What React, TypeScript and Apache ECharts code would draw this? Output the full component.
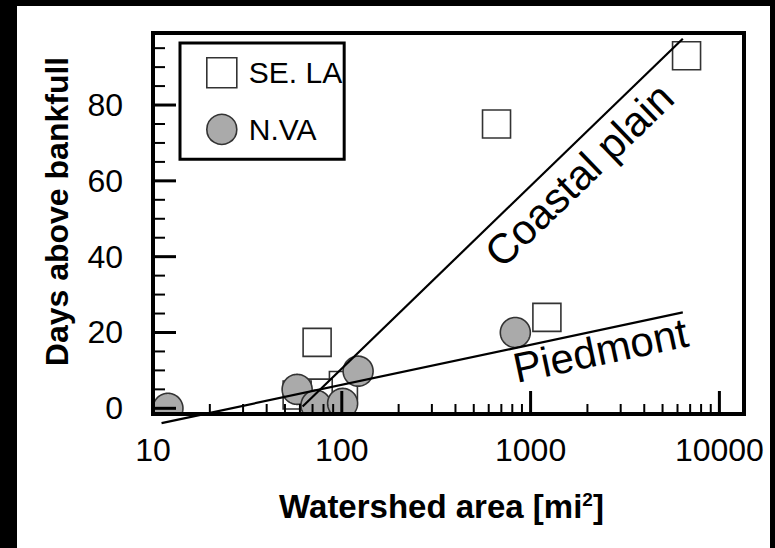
import { useEffect, useRef } from "react";
import * as echarts from "echarts";

const FONT = '"Liberation Sans", Arial, Helvetica, sans-serif';

// SE. LA gauges (open squares)
const seLaArea = [6700, 660, 1220, 74, 102, 75, 58];
const seLaDays = [93, 75, 24, 17.4, 6, 4, 3.5];

// N.VA gauges (grey circles)
const nVaArea = [12, 58, 73, 101, 122, 830];
const nVaDays = [0, 5, 0.8, 1.3, 9.8, 20];

// fitted trend lines (end points)
const coastalArea = [62, 6400];
const coastalDays = [0.5, 97.5];
const piedmontArea = [11.1, 6400];
const piedmontDays = [-3.9, 25.3];

// tick values
const xMajor = [10, 100, 1000, 10000];
const xMinor = [
  20, 30, 40, 50, 60, 70, 80, 90,
  200, 300, 400, 500, 600, 700, 800, 900,
  2000, 3000, 4000, 5000, 6000, 7000, 8000, 9000,
];
const yMajor = [0, 20, 40, 60, 80];
const yMinor = [5, 10, 15, 25, 30, 35, 45, 50, 55, 65, 70, 75, 85, 90, 95];

const X_MIN = 10;
const X_MAX = 13500;
const Y_MIN = -1.5;
const Y_MAX = 99;

const pairs = (xs: number[], ys: number[]) => xs.map((x, i) => [x, ys[i]]);
const clamp = (v: number, lo: number, hi: number) => Math.min(Math.max(v, lo), hi);

// markers are cut off at the plot frame
function markerSeries(name: string, xs: number[], ys: number[], kind: "rect" | "circle", z: number) {
  return {
    type: "custom",
    name,
    coordinateSystem: "cartesian2d",
    clip: false,
    z,
    data: pairs(xs, ys),
    renderItem: (params: any, api: any) => {
      const cs = params.coordSys;
      const x0 = cs.x;
      const x1 = cs.x + cs.width;
      const y0 = cs.y;
      const y1 = cs.y + cs.height;
      const p = api.coord([api.value(0), api.value(1)]);
      if (kind === "rect") {
        const h = 14;
        const l = clamp(p[0] - h, x0, x1);
        const r = clamp(p[0] + h, x0, x1);
        const t = clamp(p[1] - h, y0, y1);
        const b = clamp(p[1] + h, y0, y1);
        return {
          type: "rect",
          shape: { x: l, y: t, width: r - l, height: b - t },
          style: { fill: "#ffffff", stroke: "#333333", lineWidth: 1.6 },
        };
      }
      const rad = 15;
      const pts: number[][] = [];
      for (let i = 0; i < 90; i++) {
        const a = (i / 90) * Math.PI * 2;
        pts.push([
          clamp(p[0] + rad * Math.cos(a), x0, x1),
          clamp(p[1] + rad * Math.sin(a), y0, y1),
        ]);
      }
      return {
        type: "polygon",
        shape: { points: pts },
        style: { fill: "#aaaaaa", stroke: "#333333", lineWidth: 1.6 },
      };
    },
  };
}

function trendLine(xs: number[], ys: number[]) {
  return {
    type: "line",
    data: pairs(xs, ys),
    symbol: "none",
    clip: false,
    silent: true,
    z: 5,
    lineStyle: { color: "#000", width: 2.2 },
  };
}

const isPow10 = (v: number) => {
  const lg = Math.log10(v);
  return Math.abs(lg - Math.round(lg)) < 1e-6;
};

export default function App() {
  const ref = useRef<HTMLDivElement>(null);

  useEffect(() => {
    if (!ref.current) return;
    const chart = echarts.init(ref.current, undefined, { renderer: "svg" });

    chart.setOption({
      animation: false,
      grid: { left: 153, right: 31, top: 33, bottom: 134 },
      legend: {
        orient: "vertical",
        left: 180,
        top: 43,
        padding: [14, 2, 14, 26],
        itemWidth: 30,
        itemHeight: 30,
        itemGap: 25,
        borderColor: "#000",
        borderWidth: 3,
        backgroundColor: "#fff",
        selectedMode: false,
        textStyle: { fontSize: 30, color: "#000", fontFamily: FONT, padding: [0, 0, 0, 7] },
        data: [
          { name: "SE. LA", icon: "rect", itemStyle: { color: "#fff", borderColor: "#333", borderWidth: 1.6 } },
          { name: "N.VA", icon: "circle", itemStyle: { color: "#aaa", borderColor: "#333", borderWidth: 1.6 } },
        ],
      },
      xAxis: {
        type: "log",
        logBase: 10,
        min: X_MIN,
        max: X_MAX,
        axisLine: { show: false },
        axisTick: { show: false },
        splitLine: { show: false },
        axisLabel: {
          margin: 20,
          fontSize: 32,
          color: "#000",
          fontFamily: FONT,
          formatter: (v: number) => (isPow10(v) && xMajor.includes(Math.round(v)) ? String(Math.round(v)) : ""),
        },
        name: "Watershed area [mi{sup|2}]",
        nameLocation: "middle",
        nameGap: 76,
        nameTextStyle: {
          fontSize: 33,
          fontWeight: "bold",
          color: "#000",
          fontFamily: FONT,
          padding: [0, 14, 0, 0],
          rich: {
            sup: { fontSize: 19, fontWeight: "bold", color: "#000", fontFamily: FONT, verticalAlign: "top", padding: [0, 0, 14, 0] },
          },
        },
      },
      yAxis: {
        type: "value",
        min: Y_MIN,
        max: Y_MAX,
        axisLine: { show: false },
        axisTick: { show: false },
        splitLine: { show: false },
        axisLabel: {
          margin: 30,
          fontSize: 32,
          color: "#000",
          fontFamily: FONT,
          formatter: (v: number) => (yMajor.includes(v) ? String(v) : ""),
        },
        name: "Days above bankfull",
        nameLocation: "middle",
        nameGap: 80,
        nameRotate: 90,
        nameTextStyle: { fontSize: 32, fontWeight: "bold", color: "#000", fontFamily: FONT, padding: [0, 0, 0, 24] },
      },
      series: [
        markerSeries("SE. LA", seLaArea, seLaDays, "rect", 2),
        markerSeries("N.VA", nVaArea, nVaDays, "circle", 3),
        trendLine(coastalArea, coastalDays),
        trendLine(piedmontArea, piedmontDays),
      ],
    });

    const px = (x: number, y: number) => chart.convertToPixel({ gridIndex: 0 }, [x, y]) as number[];
    const topLeft = px(X_MIN, Y_MAX);
    const bottomRight = px(X_MAX, Y_MIN);
    const left = topLeft[0];
    const top = topLeft[1];
    const right = bottomRight[0];
    const bottom = bottomRight[1];

    // solid bars (filled rects) for the frame and the inward ticks
    const bar = (x: number, y: number, w: number, h: number, z: number) => ({
      type: "rect",
      z,
      shape: { x, y, width: w, height: h },
      style: { fill: "#000", lineWidth: 0 },
    });
    const ticks = [
      ...xMajor.map((v) => bar(px(v, Y_MIN)[0] - 1.5, bottom - 23, 3, 23, 90)),
      ...xMinor.map((v) => bar(px(v, Y_MIN)[0] - 1, bottom - 10, 2, 10, 90)),
      ...yMajor.map((v) => bar(left, px(X_MIN, v)[1] - 1.5, 23, 3, 90)),
      ...yMinor.map((v) => bar(left, px(X_MIN, v)[1] - 1, 12, 2, 90)),
    ];
    const w = right - left;
    const h = bottom - top;
    const frame = [
      bar(left - 2, top - 2, w + 4, 4, 100),
      bar(left - 2, bottom - 2, w + 4, 4, 100),
      bar(left - 2, top - 2, 4, h + 4, 100),
      bar(right - 2, top - 2, 4, h + 4, 100),
    ];

    // labels running along the two trend lines
    const along = (xs: number[], ys: number[], t: number, d: number, text: string) => {
      const a = px(xs[0], ys[0]);
      const b = px(xs[1], ys[1]);
      const th = Math.atan2(a[1] - b[1], b[0] - a[0]);
      return {
        type: "text",
        x: a[0] + (b[0] - a[0]) * t + d * Math.sin(th),
        y: a[1] + (b[1] - a[1]) * t + d * Math.cos(th),
        rotation: th,
        z: 95,
        style: {
          text,
          fontSize: 42,
          fontFamily: FONT,
          fill: "#000",
          align: "center",
          verticalAlign: "middle",
          textAlign: "center",
          textVerticalAlign: "middle",
        },
      };
    };

    chart.setOption({
      graphic: [
        ...ticks,
        ...frame,
        along(coastalArea, coastalDays, 0.68, 26, "Coastal plain"),
        along(piedmontArea, piedmontDays, 0.834, 20, "Piedmont"),
      ],
    });

    return () => chart.dispose();
  }, []);

  return (
    <div style={{ position: "fixed", left: 0, top: 0, width: 775, height: 548, background: "#000" }}>
      <div style={{ position: "absolute", left: 17, top: 6, width: 753, height: 542, background: "#fff" }} />
      <div ref={ref} style={{ position: "absolute", left: 0, top: 0, width: 775, height: 548 }} />
    </div>
  );
}
